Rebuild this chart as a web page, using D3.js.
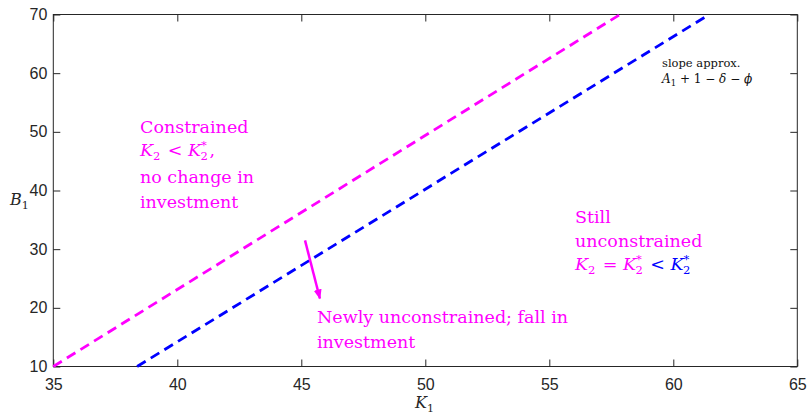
<!DOCTYPE html>
<html>
<head>
<meta charset="utf-8">
<script src="https://cdn.jsdelivr.net/npm/d3@7"></script>
<style>
  html, body { margin: 0; padding: 0; background: #fff; }
  svg { display: block; }
</style>
</head>
<body>
<svg id="chart" width="809" height="414"></svg>
<script>
// Boundary lines in (K1, B1) space
const magentaK1 = [35, 57.85];
const magentaB1 = [10, 70];
const blueK1 = [38.38, 61.45];
const blueB1 = [10, 70];

// Axis ticks
const xTicks = [35, 40, 45, 50, 55, 60, 65];
const yTicks = [10, 20, 30, 40, 50, 60, 70];

// Arrow showing the shift (K1, B1)
const arrowK1 = [45.15, 45.75];
const arrowB1 = [31.5, 21.6];

const svg = d3.select("#chart");
const plotL = 53.3, plotR = 797.3, plotT = 14.5, plotB = 366.5;

const x = d3.scaleLinear().domain([35, 65]).range([plotL, plotR]);
const y = d3.scaleLinear().domain([10, 70]).range([plotB, plotT]);

const axisColor = "#262626";
const tickLen = 7;

// Box
svg.append("rect").attr("x", plotL).attr("y", plotT)
  .attr("width", plotR - plotL).attr("height", plotB - plotT)
  .attr("fill", "none").attr("stroke", axisColor).attr("stroke-width", 1);

// Inward ticks on all four sides
const xAxisB = d3.axisBottom(x).tickValues(xTicks).tickSizeInner(-tickLen).tickSizeOuter(0).tickPadding(12);
const xAxisT = d3.axisTop(x).tickValues(xTicks).tickSizeInner(-tickLen).tickSizeOuter(0).tickFormat("");
const yAxisL = d3.axisLeft(y).tickValues(yTicks).tickSizeInner(-tickLen).tickSizeOuter(0).tickPadding(6);
const yAxisR = d3.axisRight(y).tickValues(yTicks).tickSizeInner(-tickLen).tickSizeOuter(0).tickFormat("");

function styleAxis(sel) {
  sel.select(".domain").remove();
  sel.selectAll("line").attr("stroke", axisColor);
  sel.selectAll("text").attr("fill", axisColor)
    .style("font-family", "'Liberation Sans', Arial, sans-serif").style("font-size", "16px");
}
svg.append("g").attr("transform", `translate(0,${plotB})`).call(xAxisB).call(styleAxis);
svg.append("g").attr("transform", `translate(0,${plotT})`).call(xAxisT).call(styleAxis);
svg.append("g").attr("transform", `translate(${plotL},0)`).call(yAxisL).call(styleAxis);
svg.append("g").attr("transform", `translate(${plotR},0)`).call(yAxisR).call(styleAxis);

// Dashed boundary lines
const line = d3.line().x(d => x(d[0])).y(d => y(d[1]));
function dashed(k, b, color) {
  svg.append("path")
    .datum(k.map((v, i) => [v, b[i]]))
    .attr("d", line)
    .attr("fill", "none")
    .attr("stroke", color)
    .attr("stroke-width", 2.8)
    .attr("stroke-dasharray", "10,6");
}
dashed(magentaK1, magentaB1, "#ff00ff");
dashed(blueK1, blueB1, "#0000ff");

// Arrow
svg.append("defs").append("marker")
  .attr("id", "ah").attr("viewBox", "0 0 10 10")
  .attr("refX", 9).attr("refY", 5)
  .attr("markerWidth", 4).attr("markerHeight", 4)
  .attr("markerUnits", "strokeWidth")
  .attr("orient", "auto")
  .append("path").attr("d", "M0,1 L10,5 L0,9 Z").attr("fill", "#ff00ff");
svg.append("line")
  .attr("x1", x(arrowK1[0])).attr("y1", y(arrowB1[0]))
  .attr("x2", x(arrowK1[1])).attr("y2", y(arrowB1[1]))
  .attr("stroke", "#ff00ff").attr("stroke-width", 2.5)
  .attr("marker-end", "url(#ah)");

// Annotations
const serif = "'DejaVu Serif', 'Liberation Serif', serif";
const mag = "#ff00ff", blu = "#0000ff", fs = 17.5;

// Math helper: K with subscript 2 and optional star superscript
function addK(t, color, star, size) {
  t.append("tspan").attr("fill", color).style("font-style", "italic").text("K");
  const sub = size * 0.66;
  if (star) {
    t.append("tspan").attr("fill", color).attr("dy", -size * 0.42)
      .style("font-size", sub + "px").text("*");
    t.append("tspan").attr("fill", color).attr("dx", -sub * 0.55).attr("dy", size * 0.66)
      .style("font-size", sub + "px").text("2");
    t.append("tspan").attr("dy", -size * 0.24).text("\u200A");
  } else {
    t.append("tspan").attr("fill", color).attr("dy", size * 0.24)
      .style("font-size", sub + "px").text("2");
    t.append("tspan").attr("dy", -size * 0.24).text("\u200A");
  }
}

function plain(xp, yp, s, size, color) {
  return svg.append("text").attr("x", xp).attr("y", yp)
    .style("font-family", serif).style("font-size", size + "px")
    .attr("fill", color).text(s);
}

// Left block
plain(140, 133, "Constrained", fs, mag);
{
  const t = svg.append("text").attr("x", 140).attr("y", 156)
    .style("font-family", serif).style("font-size", fs + "px").attr("fill", mag);
  addK(t, mag, false, fs);
  t.append("tspan").text(" < ");
  addK(t, mag, true, fs);
  t.append("tspan").text(",");
}
plain(140, 183, "no change in", fs, mag);
plain(140, 208, "investment", fs, mag);

// Right block
plain(575, 223, "Still", fs, mag);
plain(575, 247, "unconstrained", fs, mag);
{
  const t = svg.append("text").attr("x", 575).attr("y", 270)
    .style("font-family", serif).style("font-size", fs + "px").attr("fill", mag);
  addK(t, mag, false, fs);
  t.append("tspan").text(" = ");
  addK(t, mag, true, fs);
  t.append("tspan").attr("fill", blu).text(" < ");
  addK(t, blu, true, fs);
}

// Bottom block
plain(317, 323, "Newly unconstrained; fall in", fs, mag);
plain(317, 348, "investment", fs, mag);

// Slope note
plain(662, 67, "slope approx.", 11.5, "#111");
{
  const t = svg.append("text").attr("x", 662).attr("y", 83)
    .style("font-family", serif).style("font-size", "12px").attr("fill", "#111");
  t.append("tspan").style("font-style", "italic").text("A");
  t.append("tspan").attr("dy", 3).style("font-size", "8.5px").text("1");
  t.append("tspan").attr("dy", -3).text(" + 1 \u2212 ");
  t.append("tspan").style("font-style", "italic").text("\u03B4");
  t.append("tspan").text(" \u2212 ");
  t.append("tspan").style("font-style", "italic").text("\u03D5");
}

// Axis labels
{
  const t = svg.append("text").attr("x", 415).attr("y", 408)
    .style("font-family", serif).style("font-size", "16px").attr("fill", axisColor);
  t.append("tspan").style("font-style", "italic").text("K");
  t.append("tspan").attr("dy", 4).style("font-size", "11px").text("1");
}
{
  const t = svg.append("text").attr("x", 10).attr("y", 205)
    .style("font-family", serif).style("font-size", "16px").attr("fill", axisColor);
  t.append("tspan").style("font-style", "italic").text("B");
  t.append("tspan").attr("dy", 4).style("font-size", "11px").text("1");
}
</script>
</body>
</html>
